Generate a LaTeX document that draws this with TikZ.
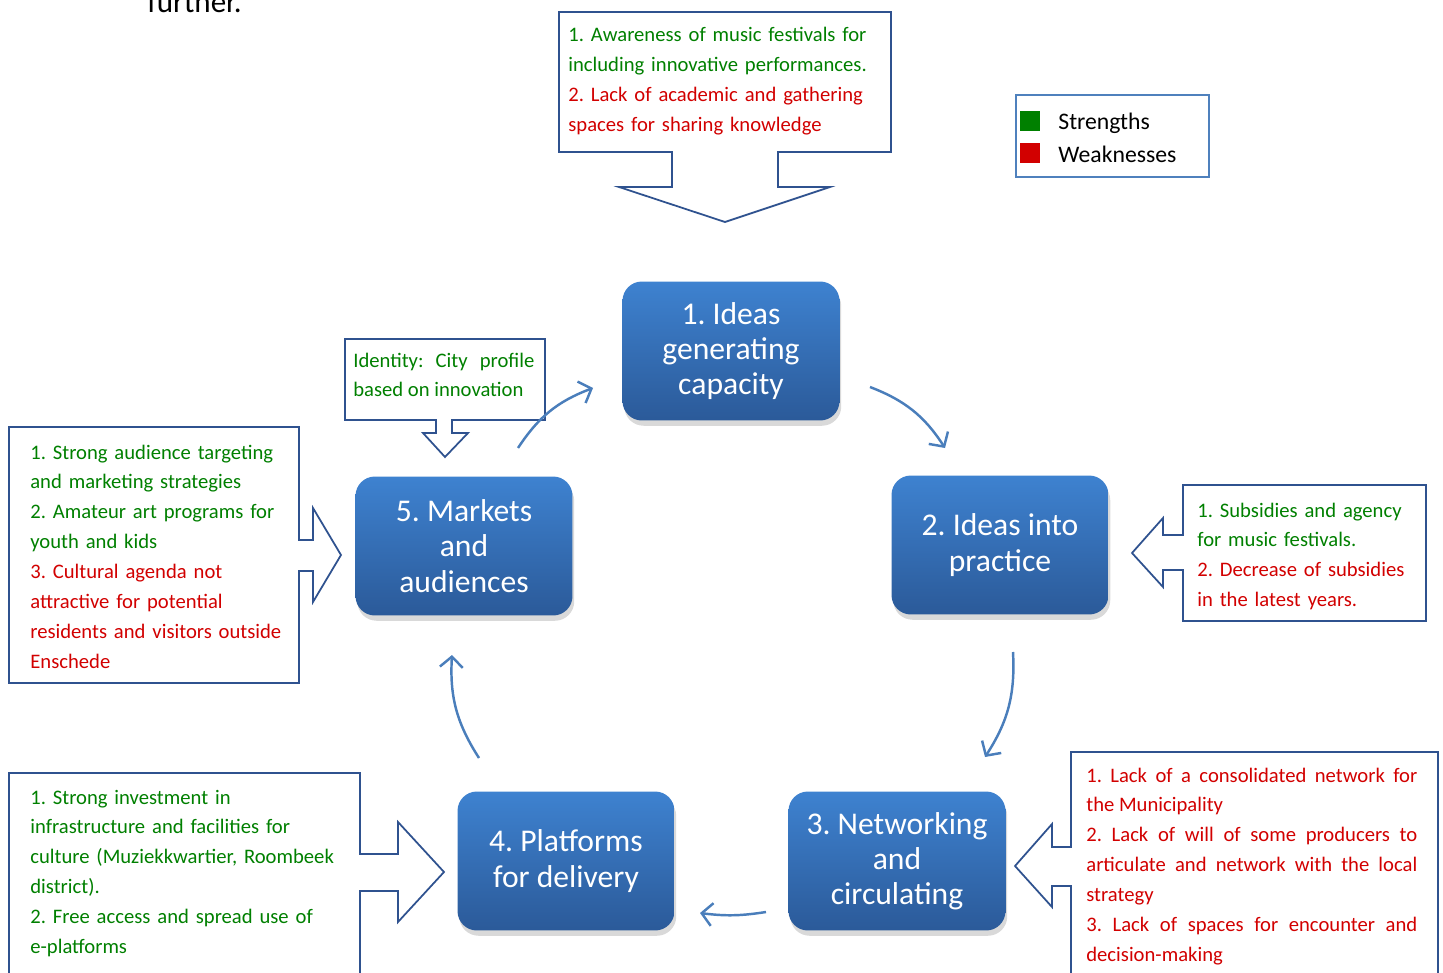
\documentclass[tikz,border=0pt]{standalone}
\usepackage{fontspec}
\setmainfont{Carlito}
\usetikzlibrary{arrows.meta,shadows}
\frenchspacing

\definecolor{strength}{RGB}{0,128,0}
\definecolor{weakness}{RGB}{210,0,0}
\definecolor{outline}{RGB}{47,82,143}
\definecolor{legendblue}{RGB}{79,129,189}
\definecolor{flowblue}{RGB}{74,126,187}
\definecolor{boxtop}{RGB}{62,130,208}
\definecolor{boxbottom}{RGB}{43,90,153}

\tikzset{
	stage/.style={rectangle, rounded corners=11pt, minimum width=4.34cm, minimum height=2.78cm, inner sep=0pt,
		top color=boxtop, bottom color=boxbottom, text=white, align=center, font=\fontsize{18}{20}\selectfont,
		drop shadow={shadow xshift=1pt, shadow yshift=-3pt, opacity=0.3}},
	callout/.style={draw=outline, line width=1pt, fill=white},
	note/.style={anchor=base west, inner sep=0pt, font=\fontsize{11.75}{17}\selectfont},
	flow/.style={draw=flowblue, line width=1.4pt, -{Straight Barb[length=6pt,width=13pt]}},
}

\begin{document}
\begin{tikzpicture}[x=0.02cm, y=-0.02cm]
	\useasboundingbox (0,0) rectangle (1443,973);

	\node[anchor=base west, inner sep=0pt, font=\fontsize{17.7}{20}\selectfont] (further) at (147,13) {further.};

	% callouts with block arrows
	\draw[callout] (559,12) -- (891,12) -- (891,152) -- (778,152) -- (778,187) -- (830,187) -- (725,222)
		-- (619,187) -- (672,187) -- (672,152) -- (559,152) -- cycle;
	\draw[callout] (345,339) -- (545,339) -- (545,420) -- (452,420) -- (452,433) -- (468,433) -- (445,457)
		-- (423,433) -- (436,433) -- (436,420) -- (345,420) -- cycle;
	\draw[callout] (9,427) -- (299,427) -- (299,540) -- (313,540) -- (313,508) -- (341,555) -- (313,602)
		-- (313,571) -- (299,571) -- (299,683) -- (9,683) -- cycle;
	\draw[callout] (1183,485) -- (1426,485) -- (1426,621) -- (1183,621) -- (1183,570) -- (1163,570) -- (1163,587)
		-- (1132,553) -- (1163,518) -- (1163,535) -- (1183,535) -- cycle;
	\draw[callout] (1071,752) -- (1438,752) -- (1438,985) -- (1071,985) -- (1071,886) -- (1052,886) -- (1052,907)
		-- (1015,866) -- (1052,824) -- (1052,847) -- (1071,847) -- cycle;
	\draw[callout] (9,773) -- (360,773) -- (360,854) -- (398,854) -- (398,822) -- (444,872) -- (398,922)
		-- (398,891) -- (360,891) -- (360,985) -- (9,985) -- cycle;

	\node[note, text width=6.4cm, align=left] (topnote) at (568,42)
		{\color{strength}1. Awareness of music festivals for\\including innovative performances.\\
		\color{weakness}2. Lack of academic and gathering\\spaces for sharing knowledge};
	\node[note, text width=3.62cm, align=justify, text=strength] (identity) at (353,367)
		{Identity: City profile\linebreak based on innovation};
	\node[note, text width=5.6cm, align=left] (marketsnote) at (30,459)
		{\color{strength}1. Strong audience targeting\\and marketing strategies\\2. Amateur art programs for\\youth and kids\\
		\color{weakness}3. Cultural agenda not\\attractive for potential\\residents and visitors outside\\Enschede};
	\node[note, text width=4.6cm, align=left] (practicenote) at (1197,517)
		{\color{strength}1. Subsidies and agency\\for music festivals.\\
		\color{weakness}2. Decrease of subsidies\\in the latest years.};
	\node[note, text width=6.62cm, align=justify, text=weakness] (networknote) at (1086,782)
		{1. Lack of a consolidated network for\linebreak the Municipality\\
		2. Lack of will of some producers to\linebreak articulate and network with the local\linebreak strategy\\
		3. Lack of spaces for encounter and\linebreak decision-making};
	\node[note, text width=6.6cm, align=left, text=strength] (platformsnote) at (30,804)
		{1. Strong investment in\\infrastructure and facilities for\\culture (Muziekkwartier, Roombeek\\district).\\
		2. Free access and spread use of\\e-platforms};

	% legend
	\draw[legendblue, line width=1.3pt] (1016,95) rectangle (1209,177);
	\node[fill=strength, minimum size=0.4cm, inner sep=0pt] (sqs) at (1030,121) {};
	\node[fill=weakness, minimum size=0.4cm, inner sep=0pt] (sqw) at (1030,153) {};
	\node[anchor=base west, inner sep=0pt, font=\fontsize{13.5}{16}\selectfont] (lgs) at (1058,130) {Strengths};
	\node[anchor=base west, inner sep=0pt, font=\fontsize{13.5}{16}\selectfont] (lgw) at (1058,163) {Weaknesses};

	% stages
	\node[stage] (ideas) at (731,351) {1. Ideas\\generating\\capacity};
	\node[stage] (practice) at (1000,545) {2. Ideas into\\practice};
	\node[stage] (network) at (897,861) {3. Networking\\and\\circulating};
	\node[stage] (platforms) at (566,861) {4. Platforms\\for delivery};
	\node[stage] (markets) at (464,546) {5. Markets\\and\\audiences};

	% cycle arrows
	\coordinate (a1) at (870,387);  \coordinate (b1) at (945,448);
	\coordinate (a2) at (1013,652); \coordinate (b2) at (985,757);
	\coordinate (a3) at (766,912);  \coordinate (b3) at (700,913);
	\coordinate (a4) at (479,758);  \coordinate (b4) at (452,655);
	\coordinate (a5) at (518,448);  \coordinate (b5) at (593,388);
	\draw[flow] (a1) to[bend left=18] (b1);
	\draw[flow] (a2) to[bend left=18] (b2);
	\draw[flow] (a3) to[bend left=8] (b3);
	\draw[flow] (a4) to[bend left=18] (b4);
	\draw[flow] (a5) to[bend left=18] (b5);

\end{tikzpicture}
\end{document}
